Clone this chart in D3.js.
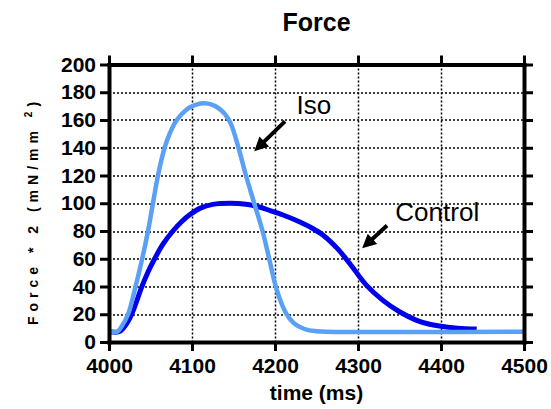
<!DOCTYPE html>
<html>
<head>
<meta charset="utf-8">
<script src="https://cdn.jsdelivr.net/npm/d3@7"></script>
<style>
    body { margin: 0; background: #fff; }
    text { font-family: "Liberation Sans", Arial, sans-serif; }
</style>
</head>
<body>
<div id="chart"></div>
<script>
// values
var iso_time = [4000, 4010, 4015, 4023, 4032, 4040, 4047, 4053, 4059, 4067, 4073, 4080, 4088, 4097, 4106, 4115,
    4124, 4133, 4140, 4147, 4156, 4165, 4175, 4185, 4193, 4200, 4207, 4214, 4222, 4230, 4240, 4250, 4262, 4500];
var iso_force = [7.4, 7.4, 11, 20, 40, 60, 80, 100, 120, 140, 150, 158.5, 164.5, 169, 171.3, 172,
    171, 168, 164, 157, 140, 120, 100, 80, 60, 42, 29, 20, 14, 10.8, 8.6, 7.8, 7.4, 7.4];

var control_time = [4000, 4012, 4018, 4024, 4030, 4039, 4047, 4055, 4065, 4077, 4088, 4098, 4110, 4125, 4146,
    4165, 4180, 4195, 4212, 4230, 4245, 4258, 4275, 4290, 4310, 4330, 4350, 4370, 4385, 4398, 4420, 4443];
var control_force = [7.4, 7.4, 10.5, 16, 24, 39, 50.5, 60, 70.5, 80, 87, 92, 96.5, 99.2, 100,
    99.3, 97.5, 94.5, 91, 86.5, 82, 77, 67.5, 56.6, 41, 30, 21.8, 15.8, 13, 11.5, 10, 9.4];

var x_ticks = [4000, 4100, 4200, 4300, 4400, 4500];
var y_ticks = [0, 20, 40, 60, 80, 100, 120, 140, 160, 180, 200];

var label_names = ["Iso", "Control"];
var label_pos = [[4226, 164.5], [4345, 87]];
var arrow_from = [[4212, 159], [4335, 84]];
var arrow_to = [[4175, 137.5], [4305, 67.5]];

var force_chart = (function () {
    return {
        draw: function (placement, width, height) {
            var margin = {top: 64.5, right: 27, bottom: 67, left: 109};
            var w = width - margin.left - margin.right,
                h = height - margin.top - margin.bottom;

            var svg = d3.select(placement).append("svg")
                .attr("width", width)
                .attr("height", height);

            var g = svg.append("g")
                .attr("transform", "translate(" + margin.left + "," + margin.top + ")");

            var x = d3.scaleLinear().domain([4000, 4500]).range([0, w]);
            var y = d3.scaleLinear().domain([0, 200]).range([h, 0]);

            // dotted grid
            var grid = g.append("g").attr("class", "grid");
            grid.selectAll("line.vx")
                .data(x_ticks.slice(1, -1))
                .enter().append("line")
                .attr("class", "vx")
                .attr("x1", function (d) { return Math.round(x(d)) + 0.5; })
                .attr("x2", function (d) { return Math.round(x(d)) + 0.5; })
                .attr("y1", 0).attr("y2", h);

            grid.selectAll("line.hy")
                .data(y_ticks.slice(1, -1))
                .enter().append("line")
                .attr("class", "hy")
                .attr("y1", function (d) { return Math.round(y(d)) + 0.5; })
                .attr("y2", function (d) { return Math.round(y(d)) + 0.5; })
                .attr("x1", 0).attr("x2", w);

            grid.selectAll("line")
                .attr("stroke", "#000")
                .attr("stroke-width", 1.5)
                .attr("stroke-dasharray", "2,2");

            var line = d3.line()
                .x(function (d) { return x(d[0]); })
                .y(function (d) { return y(d[1]); })
                .curve(d3.curveCatmullRom.alpha(0.5));

            g.append("path")
                .datum(d3.zip(control_time, control_force))
                .attr("d", line)
                .style("fill", "none")
                .style("stroke", "#0000ee")
                .style("stroke-width", 5);

            g.append("path")
                .datum(d3.zip(iso_time, iso_force))
                .attr("d", line)
                .style("fill", "none")
                .style("stroke", "#5aa0f5")
                .style("stroke-width", 4.5);

            // axes on all four sides
            var axes = [
                {axis: d3.axisBottom(x).tickValues(x_ticks), at: "translate(0," + h + ")", labels: true},
                {axis: d3.axisTop(x).tickValues(x_ticks), at: "translate(0,0)", labels: false},
                {axis: d3.axisLeft(y).tickValues(y_ticks), at: "translate(0,0)", labels: true},
                {axis: d3.axisRight(y).tickValues(y_ticks), at: "translate(" + w + ",0)", labels: false}
            ];

            axes.forEach(function (a, i) {
                a.axis.tickSizeInner(9).tickSizeOuter(0).tickPadding(i == 0 ? 7 : 4)
                    .tickFormat(a.labels ? d3.format("d") : "");
                var ax = g.append("g").attr("transform", a.at).call(a.axis);
                ax.select(".domain").style("stroke", "#000").style("stroke-width", 4)
                    .style("stroke-linecap", "square");
                ax.selectAll(".tick line").style("stroke", "#000").style("stroke-width", 3);
                ax.selectAll(".tick text")
                    .style("font-size", "21px")
                    .style("font-weight", "bold")
                    .style("fill", "#000");
            });

            // arrows
            arrow_from.forEach(function (p, i) {
                var x0 = x(p[0]), y0 = y(p[1]), x1 = x(arrow_to[i][0]), y1 = y(arrow_to[i][1]);
                var dx = x1 - x0, dy = y1 - y0, len = Math.sqrt(dx * dx + dy * dy);
                var ux = dx / len, uy = dy / len, hl = 14, hw = 7;
                var bx = x1 - ux * hl, by = y1 - uy * hl;
                g.append("line")
                    .attr("x1", x0).attr("y1", y0).attr("x2", bx + ux * 2).attr("y2", by + uy * 2)
                    .style("stroke", "#000").style("stroke-width", 4);
                g.append("path")
                    .attr("d", "M" + x1 + "," + y1 +
                        "L" + (bx - uy * hw) + "," + (by + ux * hw) +
                        "L" + (bx + uy * hw) + "," + (by - ux * hw) + "Z")
                    .style("fill", "#000");
            });

            g.selectAll(".series-label")
                .data(label_names)
                .enter().append("text")
                .attr("class", "series-label")
                .attr("x", function (d, i) { return x(label_pos[i][0]); })
                .attr("y", function (d, i) { return y(label_pos[i][1]); })
                .style("font-size", "26px")
                .style("fill", "#000")
                .text(function (d) { return d; });

            // titles
            svg.append("text")
                .attr("x", margin.left + w / 2)
                .attr("y", 31)
                .attr("text-anchor", "middle")
                .style("font-size", "25px")
                .style("font-weight", "bold")
                .text("Force");

            svg.append("text")
                .attr("x", margin.left + w / 2)
                .attr("y", 400)
                .attr("text-anchor", "middle")
                .style("font-size", "21px")
                .style("font-weight", "bold")
                .text("time (ms)");

            var ylab = svg.append("text")
                .attr("transform", "translate(38," + 211 + ") rotate(-90)")
                .attr("text-anchor", "middle")
                .style("font-size", "14px")
                .style("font-weight", "bold")
                .style("letter-spacing", "5px");
            ylab.append("tspan").text("Force * 2 (mN/mm ");
            ylab.append("tspan").attr("dy", -6).style("font-size", "10px").text("2");
            ylab.append("tspan").attr("dy", 6).text(")");
        }
    }
})();

force_chart.draw("#chart", 551, 409);
</script>
</body>
</html>
